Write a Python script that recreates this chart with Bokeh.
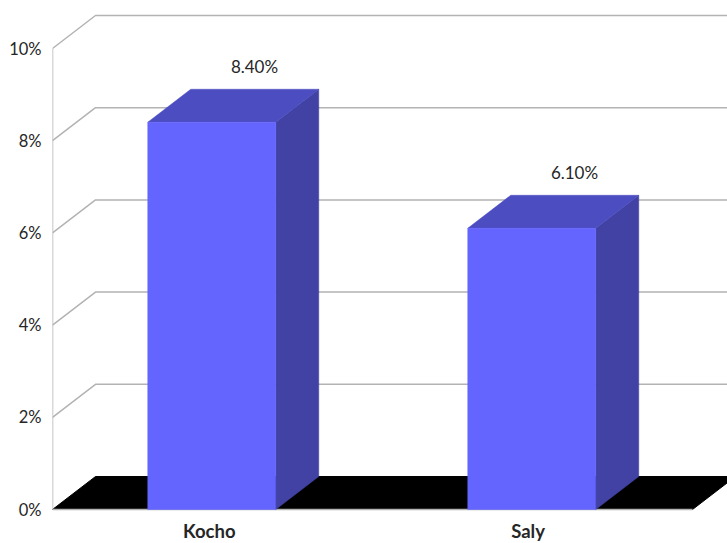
from bokeh.plotting import figure
from bokeh.embed import file_html
from bokeh.resources import INLINE
from bokeh.models import Range1d, FixedTicker
from bokeh.core.properties import value

categories = ["Kocho", "Saly"]
values = [8.4, 6.1]
value_labels = ["8.40%", "6.10%"]
y_ticks = [0, 2, 4, 6, 8, 10]
y_labels = ["0%", "2%", "4%", "6%", "8%", "10%"]

FONT = "Lato"
FRONT = "#6464ff"
TOP = "#4b4dc1"
SIDE = "#4242a4"
GRID = "#b3b3b3"

# scales: one category = 320 px, one percent = 46.1 px
px_x = 1 / 320
px_y = 1 / 46.1
DX = 43 * px_x      # 3-D depth, horizontal
DY = 33 * px_y      # 3-D depth, vertical
BAR_W = 128 * px_x
BAR_SHIFT = -0.75 * px_x

W, H = 727, 543
LEFT, BOTTOM = 52, 34

p = figure(width=W, height=H, output_backend="svg", toolbar_location=None,
           min_border_left=LEFT, min_border_right=0, min_border_top=0, min_border_bottom=0,
           x_range=Range1d(0, (W - LEFT) * px_x),
           y_range=Range1d(-BOTTOM * px_y, (H - BOTTOM) * px_y))
p.outline_line_color = None
p.grid.visible = False
p.background_fill_color = "white"

cat_ticks = [0.49, 1.486]
p.xaxis.ticker = FixedTicker(ticks=cat_ticks)
p.xaxis.major_label_overrides = dict(zip(cat_ticks, categories))
p.xaxis.fixed_location = 0
p.xaxis.axis_line_color = None
p.xaxis.major_tick_line_color = None
p.xaxis.minor_tick_line_color = None
p.xaxis.major_tick_out = 0
p.xaxis.major_tick_in = 0
p.xaxis.minor_tick_out = 0
p.xaxis.major_label_text_font = FONT
p.xaxis.major_label_text_font_size = "18.5px"
p.xaxis.major_label_text_font_style = "bold"
p.xaxis.major_label_text_color = "#262626"
p.xaxis.major_label_standoff = 10

p.yaxis.ticker = FixedTicker(ticks=y_ticks)
p.yaxis.major_label_overrides = dict(zip(y_ticks, y_labels))
p.yaxis.axis_line_color = None
p.yaxis.major_tick_line_color = None
p.yaxis.minor_tick_line_color = None
p.yaxis.major_tick_out = 0
p.yaxis.major_tick_in = 0
p.yaxis.minor_tick_out = 0
p.yaxis.major_label_text_font = FONT
p.yaxis.major_label_text_font_size = "16.5px"
p.yaxis.major_label_text_color = "#262626"
p.yaxis.major_label_standoff = 11

n = len(categories)
xmax = n

# floor
p.patch([0, DX, xmax + DX, xmax], [0, DY, DY, 0], fill_color="black", line_color="black", line_width=1)

# walls / gridlines
for t in y_ticks[1:]:
    p.line([0, DX, xmax + DX], [t, t + DY, t + DY], line_color=GRID, line_width=1.5)
p.line([0, 0], [0, y_ticks[-1]], line_color=GRID, line_width=1.5)
p.line([0, xmax], [0, 0], line_color=GRID, line_width=1.5)

# bars
for i, v in enumerate(values):
    x0 = i + 0.5 - BAR_W / 2 + BAR_SHIFT
    x1 = i + 0.5 + BAR_W / 2 + BAR_SHIFT
    p.patch([x1, x1 + DX, x1 + DX, x1], [0, DY, v + DY, v], fill_color=SIDE, line_color=SIDE, line_width=0.5)
    p.patch([x0, x1, x1 + DX, x0 + DX], [v, v, v + DY, v + DY], fill_color=TOP, line_color=TOP, line_width=0.5)
    p.quad(left=x0, right=x1, bottom=0, top=v, fill_color=FRONT, line_color=FRONT, line_width=0.5)

# value labels
label_x = [i + 0.5 + DX - 1 * px_x for i in range(n)]
label_y = [v + DY + 23 * px_y for v in values]
p.text(label_x, label_y, text=value_labels, text_align="center", text_baseline="middle",
       text_font=value(FONT), text_font_size="17px", text_color="#262626")

open("out.html", "w").write(file_html(p, INLINE))
